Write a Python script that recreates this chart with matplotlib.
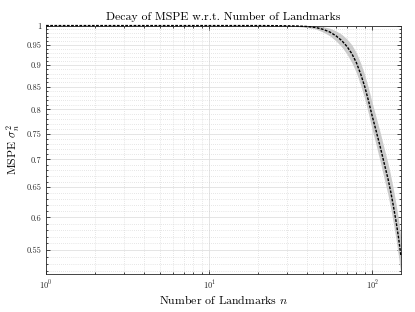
import matplotlib
matplotlib.use("Agg")
import matplotlib.pyplot as plt
from matplotlib.ticker import FixedLocator, LogLocator, NullFormatter, FixedFormatter

# ── Data ──────────────────────────────────────────────────────────────────────
n_landmarks = [1, 5, 10, 20, 25, 30, 35, 40, 45, 50, 55, 60, 65, 70, 75, 80,
               85, 90, 95, 100, 106, 112, 118, 125, 130, 135, 140, 145, 150]
mspe_mean = [1.0, 1.0, 1.0, 1.0, 0.9998, 0.9994, 0.9988, 0.9975, 0.995, 0.990,
             0.983, 0.973, 0.961, 0.946, 0.928, 0.906, 0.879, 0.850, 0.818,
             0.786, 0.754, 0.724, 0.695, 0.665, 0.642, 0.618, 0.594, 0.569, 0.542]
mspe_std = [0.0, 0.0, 0.0, 0.0002, 0.0004, 0.0008, 0.0015, 0.0025, 0.004, 0.007,
            0.010, 0.013, 0.016, 0.019, 0.022, 0.024, 0.026, 0.027, 0.028,
            0.028, 0.028, 0.028, 0.028, 0.028, 0.028, 0.028, 0.028, 0.028, 0.027]

y_ticks = [0.55, 0.6, 0.65, 0.7, 0.75, 0.8, 0.85, 0.9, 0.95, 1.0]
y_tick_labels = ["0.55", "0.6", "0.65", "0.7", "0.75", "0.8", "0.85", "0.9", "0.95", "1"]
y_minor = [v / 100 for v in range(52, 100)]

# ── Style ─────────────────────────────────────────────────────────────────────
plt.rcParams["font.family"] = "serif"
plt.rcParams["font.serif"] = ["cmr10", "DejaVu Serif"]
plt.rcParams["mathtext.fontset"] = "cm"
plt.rcParams["axes.formatter.use_mathtext"] = True

axis_col = "#262626"

fig = plt.figure(figsize=(4.15, 3.12), dpi=100)
ax = fig.add_axes([0.111, 0.122, 0.855, 0.796])

lower = [m - s for m, s in zip(mspe_mean, mspe_std)]
upper = [m + s for m, s in zip(mspe_mean, mspe_std)]
ax.fill_between(n_landmarks, lower, upper, color="#cbcbcb", lw=0, zorder=2)
ax.plot(n_landmarks, mspe_mean, color="black", ls=(0, (2, 1)), lw=1.0,
        zorder=3, clip_on=False)

ax.set_xscale("log")
ax.set_yscale("log")
ax.set_xlim(1, 150)
ax.set_ylim(0.516, 1.0)

ax.xaxis.set_major_locator(LogLocator(base=10))
ax.xaxis.set_minor_locator(LogLocator(base=10, subs=range(2, 10)))
ax.xaxis.set_minor_formatter(NullFormatter())

ax.yaxis.set_major_locator(FixedLocator(y_ticks))
ax.yaxis.set_major_formatter(FixedFormatter(y_tick_labels))
ax.yaxis.set_minor_locator(FixedLocator(y_minor))
ax.yaxis.set_minor_formatter(NullFormatter())

ax.grid(True, which="major", color="#e0e0e0", lw=0.6, ls="-", zorder=0)
ax.grid(True, which="minor", color="#cfcfcf", lw=0.5, ls=(0, (1, 2)), zorder=0)
ax.set_axisbelow(True)

ax.tick_params(which="both", direction="in", top=True, right=True,
               colors=axis_col, labelsize=6, width=0.6)
ax.tick_params(which="major", length=3)
ax.tick_params(which="minor", length=1.6)
for sp in ax.spines.values():
    sp.set_color(axis_col)
    sp.set_linewidth(0.6)

ax.set_title("Decay of MSPE w.r.t. Number of Landmarks", fontsize=8.5, pad=4)
ax.set_xlabel("Number of Landmarks $n$", fontsize=8.5, labelpad=1)
ax.set_ylabel(r"MSPE $\sigma_n^2$", fontsize=8.5, labelpad=3)

fig.savefig("out.png", dpi=100)
